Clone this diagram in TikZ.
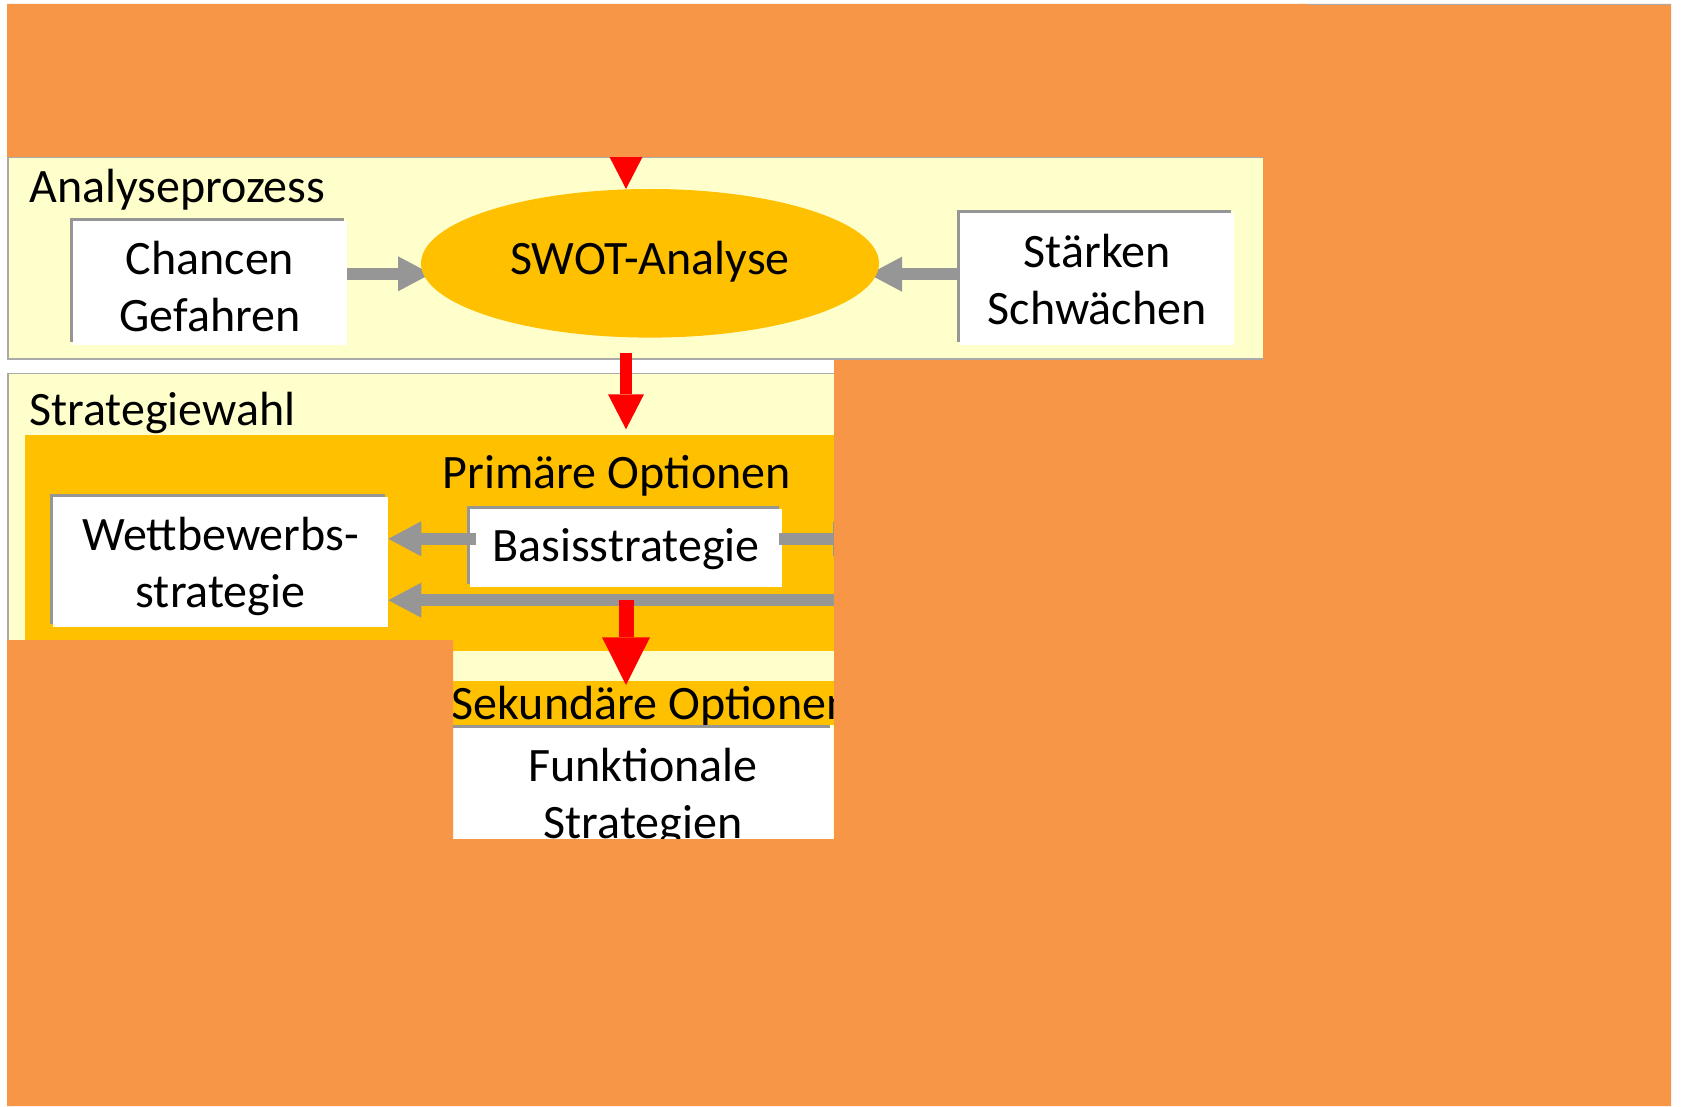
\documentclass[tikz,border=0pt]{standalone}
\usepackage{fontspec}
\setmainfont{Carlito}
\usetikzlibrary{arrows.meta,shapes.geometric,shadows}
\definecolor{maskorange}{HTML}{F79646}
\definecolor{paleyellow}{HTML}{FFFFCC}
\definecolor{gold}{HTML}{FFC000}
\definecolor{linkgray}{RGB}{150,150,150}
\definecolor{framegray}{RGB}{170,170,170}
\pgfdeclarelayer{panels}
\pgfdeclarelayer{links}
\pgfdeclarelayer{overlay}
\pgfdeclarelayer{cover}
\pgfsetlayers{panels,links,main,overlay,cover}
\tikzset{
  txt/.style={font=\fontsize{48}{57}\selectfont, inner sep=0pt, outer sep=0pt},
  panel/.style={draw=framegray, line width=1.2pt, fill=paleyellow, inner sep=0pt, outer sep=0pt, anchor=north west},
  band/.style={fill=gold, inner sep=0pt, outer sep=0pt, anchor=north west},
  card/.style={txt, fill=white, align=center,
    general shadow={fill=linkgray, shadow xshift=-3pt, shadow yshift=3pt}},
  graylink/.style={draw=linkgray, line width=11.5pt, -{Triangle[length=33pt,width=35pt,line width=0pt]}},
  redlink/.style={draw=red, line width=11.7pt, -{Triangle[length=35pt,width=36pt,line width=0pt]}},
  redlinkwide/.style={draw=red, line width=15pt, -{Triangle[length=47.7pt,width=48pt,line width=0pt]}},
}
\begin{document}
\begin{tikzpicture}[x=1pt,y=-1pt]
\useasboundingbox (0,0) rectangle (1683,1107);

% ---------- containers ----------
\begin{pgfonlayer}{panels}
  \fill[white] (0,0) rectangle (1683,1107);
  \node[panel, minimum width=1257pt, minimum height=201.5pt] (panelA) at (8,157.5) {};
  \node[panel, minimum width=842pt, minimum height=526pt] (panelB) at (8,373.7) {};
  \node[band, minimum width=830pt, minimum height=216pt] (primbox) at (25,435) {};
  \node[band, minimum width=400pt, minimum height=43.5pt] (sek) at (453,681) {};
  \node[txt, anchor=base west] (sekT) at (451.7,719.3) {Sekundäre Optionen};
\end{pgfonlayer}

% ---------- titles ----------
\node[txt, anchor=base west] (analyseT) at (29.3,202.7) {Analyseprozess};
\node[txt, anchor=base west] (wahlT) at (29.3,425) {Strategiewahl};
\node[txt, anchor=base] (primT) at (616.7,488.3) {Primäre Optionen};

% ---------- analysis ----------
\node[txt, ellipse, fill=gold, minimum width=458pt, minimum height=148.6pt,
      text height=40pt, text depth=16.6pt] (swot) at (650,263.3) {SWOT-Analyse};
\node[card, minimum width=274.3pt, minimum height=123.7pt, text width=274.3pt,
      text height=40pt, text depth=56pt] (chancen) at (210,283) {Chancen\\Gefahren};
\node[card, minimum width=274.3pt, minimum height=131.7pt, text width=274.3pt,
      text height=40pt, text depth=63pt] (staerken) at (1097.2,279.2) {Stärken\\Schwächen};

% ---------- strategy choice ----------
\node[card, minimum width=335.6pt, minimum height=130pt, text width=335.6pt,
      text height=40pt, text depth=63.2pt] (wett) at (220.5,562.3) {Wettbewerbs-\\strategie};
\node[card, minimum width=311.7pt, minimum height=78pt, text width=311.7pt,
      text height=40pt, text depth=13.2pt] (basis) at (625.9,548.3) {Basisstrategie};
\node[card, minimum width=380pt, minimum height=139.5pt, text width=380pt,
      text height=40pt, text depth=72.6pt] (funk) at (643,797.3) {Funktionale\\Strategien};

% ---------- loose ends ----------
\coordinate (rin) at (626,100);
\coordinate (lin) at (900,600.2);
\coordinate (rout) at (866,539);

% ---------- connectors behind the ellipse ----------
\begin{pgfonlayer}{links}
  \draw[graylink] ([yshift=9.2pt]chancen.east) -- ([xshift=10pt,yshift=-10.5pt]swot.west);
  \draw[graylink] ([yshift=5pt]staerken.west) -- ([xshift=-10pt,yshift=-10.9pt]swot.east);
\end{pgfonlayer}

% ---------- connectors on top ----------
\begin{pgfonlayer}{overlay}
  \draw[redlink] (rin) -- (swot.north -| rin);
  \draw[graylink] ([xshift=6pt,yshift=9.5pt]basis.west) -- ([yshift=23.5pt]wett.east);
  \draw[graylink] (lin) -- ([yshift=-37.9pt]wett.east);
  \draw[graylink] ([xshift=-2.7pt,yshift=9.3pt]basis.east) -- (rout);
  \draw[redlink, shorten <=15.6pt, shorten >=5.7pt] (swot.south -| rin) -- (primbox.north -| rin);
  \draw[redlinkwide, shorten <=12.7pt, shorten >=-4pt] (basis.south -| rin) -- (sek.north -| rin);
\end{pgfonlayer}

% ---------- orange cover ----------
\begin{pgfonlayer}{cover}
  \fill[maskorange] (7,4) -- (1671,4) -- (1671,1106) -- (7,1106) -- (7,640) -- (453,640)
    -- (453,839) -- (834,839) -- (834,360) -- (1263,360) -- (1263,157) -- (7,157) -- cycle;
  \draw[framegray, line width=1pt] (1308,4.5) -- (1671,4.5);
\end{pgfonlayer}
\end{tikzpicture}
\end{document}
